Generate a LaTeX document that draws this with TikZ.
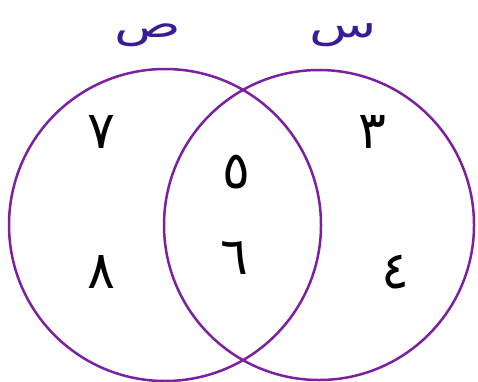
\documentclass[tikz,border=0pt]{standalone}
\usepackage{fontspec}
\usepackage{xcolor}
\usepackage{graphicx}
\TeXXeTstate=1
\newfontfamily\arabicfont[Script=Arabic]{DejaVu Sans}
\definecolor{ringpurple}{RGB}{122,32,160}
\definecolor{setindigo}{RGB}{56,28,150}
\newcommand{\widesetname}[1]{\scalebox{1.45}[1]{\beginR #1\endR}}
\tikzset{
  setring/.style={draw=ringpurple, line width=2.5pt},
  setname/.style={text=setindigo, inner sep=0pt, anchor=base,
    font=\arabicfont\fontsize{38}{42}\selectfont},
  elem/.style={font=\arabicfont\fontsize{52}{56}\selectfont}
}

\begin{document}
\begin{tikzpicture}[x=1pt,y=-1pt]
  \useasboundingbox (0,0) rectangle (478,381);
  % the two sets
  \draw[setring] (165,225) circle (156);
  \draw[setring] (319,225) circle (155);
  % set names
  \node[setname] (sad) at (148,37) {\widesetname{ص}};
  \node[setname] (sin) at (343,37) {\widesetname{س}};
  % left only
  \node[elem] (seven) at (101,132) {\beginR ٧\endR};
  \node[elem] (eight) at (101,272) {\beginR ٨\endR};
  % both
  \node[elem] (five) at (236,172) {\beginR ٥\endR};
  \node[elem] (six) at (234,258) {\beginR ٦\endR};
  % right only
  \node[elem] (three) at (372,132) {\beginR ٣\endR};
  \node[elem] (four) at (395,272) {\beginR ٤\endR};
\end{tikzpicture}
\end{document}
